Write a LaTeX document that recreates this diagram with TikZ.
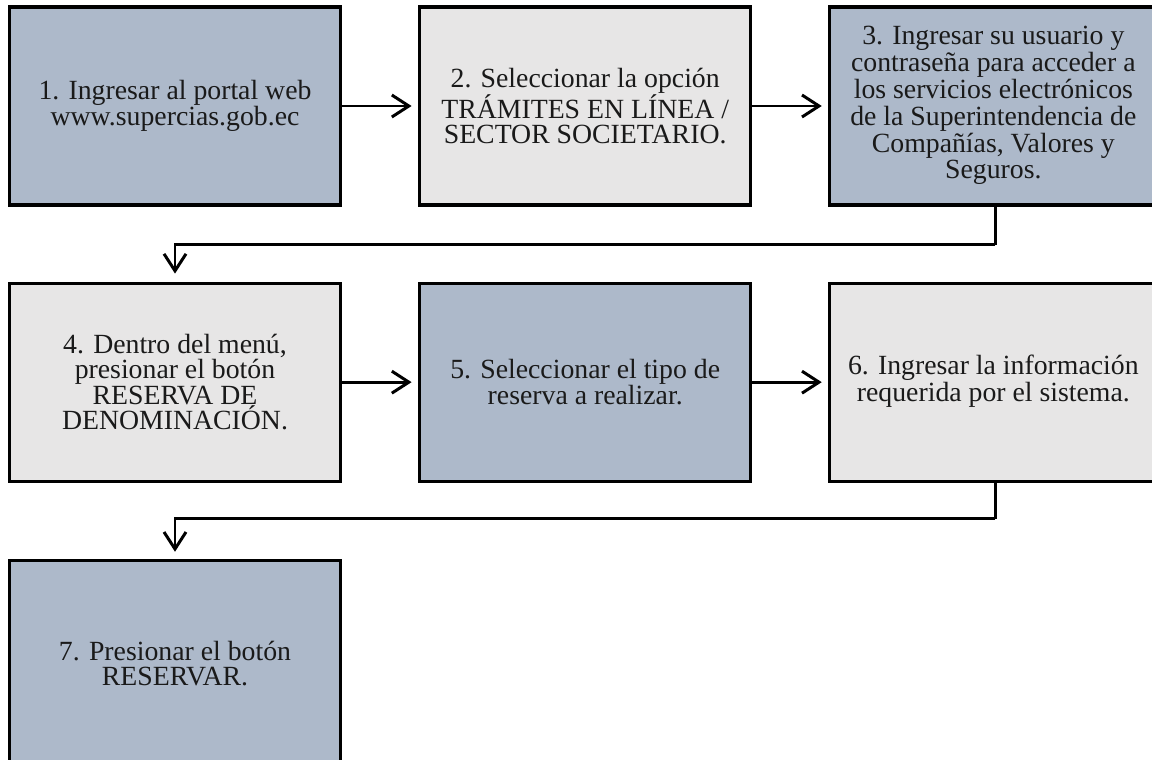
\documentclass[tikz,border=0pt]{standalone}
\usepackage{fontspec}
\setmainfont{Liberation Serif}
\usetikzlibrary{arrows.meta,positioning}
\definecolor{azulgris}{HTML}{ADB9CA}
\definecolor{grisclaro}{HTML}{E7E6E6}
\definecolor{texto}{HTML}{1A1A1A}

\begin{document}
\begin{tikzpicture}[
    paso/.style={draw=black, line width=1.8pt, align=center, minimum width=6.62cm, minimum height=3.96cm, inner sep=2pt, text=texto, font=\fontsize{15.8}{14.4}\selectfont},
    azul/.style={paso, fill=azulgris},
    gris/.style={paso, fill=grisclaro},
    corte/.style={minimum width=7.1cm},
    flecha/.style={-{Straight Barb[length=0.34cm, width=0.44cm]}, line width=1.7pt, black}
  ]
    \useasboundingbox (0,0) rectangle (23.04,-15.18);
    \clip (0,0) rectangle (23.04,-15.18);

    \node[azul] (p1) at (3.5,-2.12) {1. Ingresar al portal web\\www.supercias.gob.ec};
    \node[gris, right=1.52cm of p1] (p2) {2. Seleccionar la opción\\TRÁMITES EN LÍNEA /\\SECTOR SOCIETARIO.};
    % la caja 3 sigue fuera de la hoja
    \node[azul, corte, right=1.52cm of p2] (p3) {\hspace*{-0.56cm}\begin{tabular}{@{}c@{}}3. Ingresar su usuario y\\contraseña para acceder a\\los servicios electrónicos\\de la Superintendencia de\\Compañías, Valores y\\Seguros.\end{tabular}};

    \node[gris, below=1.5cm of p1] (p4) {4. Dentro del menú,\\presionar el botón\\RESERVA DE\\DENOMINACIÓN.};
    \node[azul, right=1.52cm of p4] (p5) {5. Seleccionar el tipo de\\reserva a realizar.};
    \node[gris, corte, right=1.52cm of p5] (p6) {\hspace*{-0.56cm}\begin{tabular}{@{}c@{}}6. Ingresar la información\\requerida por el sistema.\end{tabular}};

    \node[azul, below=1.52cm of p4, minimum height=4.12cm] (p7) {7. Presionar el botón\\RESERVAR.};

    \draw[flecha, shorten >=0.13cm] (p1) -- (p2);
    \draw[flecha, shorten >=0.13cm] (p2) -- (p3);
    \draw[flecha, shorten >=0.13cm] (p4) -- (p5);
    \draw[flecha, shorten >=0.13cm] (p5) -- (p6);

    \draw[line width=1.7pt] ([xshift=-0.24cm]p3.south) -- ++(0,-0.76) coordinate (baja1);
    \draw[flecha, shorten >=0.16cm] (baja1) -| (p4.north);
    \draw[line width=1.7pt] ([xshift=-0.24cm]p6.south) -- ++(0,-0.72) coordinate (baja2);
    \draw[flecha, shorten >=0.14cm] (baja2) -| (p7.north);
\end{tikzpicture}
\end{document}
